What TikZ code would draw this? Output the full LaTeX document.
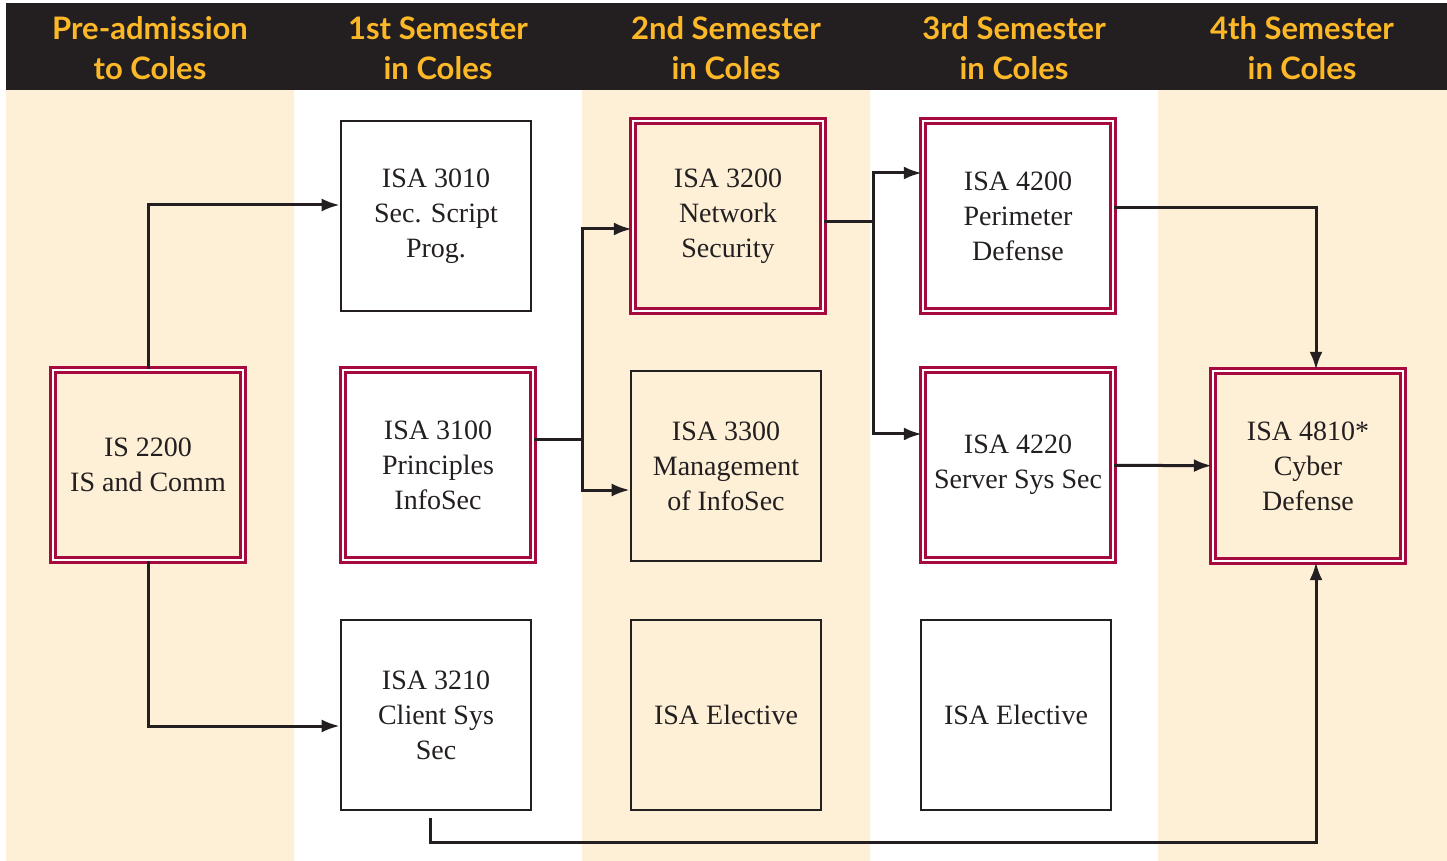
\documentclass[tikz,border=0pt]{standalone}
\usepackage{fontspec}
\setmainfont{Liberation Serif}
\newfontfamily\headfont{Lato}
\usetikzlibrary{arrows.meta}
\definecolor{ink}{HTML}{231F20}
\definecolor{gold}{HTML}{FDB827}
\definecolor{cream}{HTML}{FEF0D7}
\definecolor{maroon}{HTML}{A6093D}

\begin{document}
\begin{tikzpicture}[x=0.5pt,y=-0.5pt,
  course/.style={draw=ink,line width=1.3pt,minimum size=95pt,inner sep=0pt,
    align=center,text=ink,font=\fontsize{14}{17.5}\selectfont},
  core/.style={course,draw=maroon,line width=1.2pt,double=white,double distance=1.3pt},
  head/.style={text=gold,align=center,font=\headfont\bfseries\fontsize{15.5}{20}\selectfont},
  link/.style={draw=ink,line width=1.5pt},
  flow/.style={link,-{Latex[length=9pt,width=6.5pt]}}]
\useasboundingbox (0,0) rectangle (1447,861);
% background bands
\fill[white] (0,0) rectangle (1447,861);
\fill[cream] (6,90) rectangle (294,861) (582,90) rectangle (870,861) (1158,90) rectangle (1447,861);
\fill[ink] (6,3) rectangle (1447,90);
% headers
\node[head] (h0) at (150,48) {Pre-admission\\to Coles};
\node[head] (h1) at (438,48) {1st Semester\\in Coles};
\node[head] (h2) at (726,48) {2nd Semester\\in Coles};
\node[head] (h3) at (1014,48) {3rd Semester\\in Coles};
\node[head] (h4) at (1302,48) {4th Semester\\in Coles};
% courses
\node[core] (is2200) at (148,465) {IS 2200\\IS and Comm};
\node[course] (isa3010) at (436,216) {ISA 3010\\Sec. Script\\Prog.};
\node[core] (isa3100) at (438,465) {ISA 3100\\Principles\\InfoSec};
\node[course] (isa3210) at (436,715) {ISA 3210\\Client Sys\\Sec};
\node[core] (isa3200) at (728,216) {ISA 3200\\Network\\Security};
\node[course] (isa3300) at (726,466) {ISA 3300\\Management\\of InfoSec};
\node[course] (elect2) at (726,715) {ISA Elective};
\node[core] (isa4200) at (1018,216) {ISA 4200\\Perimeter\\Defense};
\node[core] (isa4220) at (1018,465) {ISA 4220\\Server Sys Sec};
\node[course] (elect3) at (1016,715) {ISA Elective};
\node[core] (isa4810) at (1308,466) {ISA 4810*\\Cyber\\Defense};
% prerequisites
\draw[flow] (is2200.north) |- ([yshift=5.5pt]isa3010.west);
\draw[flow] (is2200.south) |- ([yshift=-5.5pt]isa3210.west);
\draw[link] ([yshift=12.5pt]isa3100.east) -- ++(48,0) coordinate (fork1);
\draw[flow] (fork1) |- ([yshift=-6.5pt]isa3200.west);
\draw[flow] (fork1) |- ([yshift=-12pt]isa3300.west);
\draw[link] ([yshift=-3pt]isa3200.east) -- ++(49,0) coordinate (fork2);
\draw[flow] (fork2) |- ([yshift=21.5pt]isa4200.west);
\draw[flow] (fork2) |- ([yshift=15.5pt]isa4220.west);
\draw[flow] ([yshift=4pt]isa4200.east) -| ([xshift=4pt]isa4810.north);
\draw[flow] (isa4220) -- (isa4810);
\draw[flow] ([shift={(-3pt,-3.5pt)}]isa3210.south) -- ++(0,24) -| ([xshift=4pt]isa4810.south);
\end{tikzpicture}
\end{document}
